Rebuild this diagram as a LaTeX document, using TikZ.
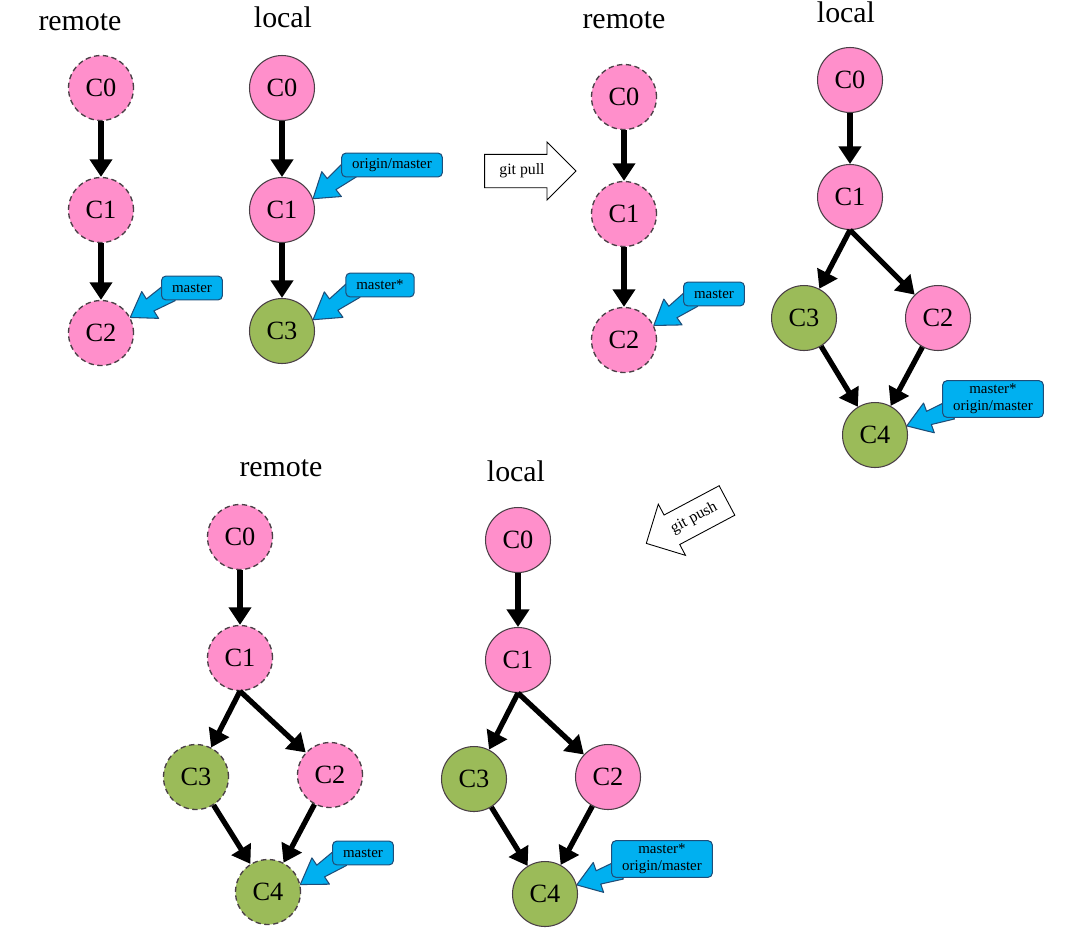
\documentclass[tikz,border=0pt]{standalone}
\usepackage{fontspec}
\setmainfont{Liberation Serif}
\usetikzlibrary{positioning,calc,arrows.meta,shapes.arrows,backgrounds}

\definecolor{commitpink}{HTML}{FF8FCB}
\definecolor{commitgreen}{HTML}{9BBB59}
\definecolor{tagblue}{HTML}{00B0F0}
\definecolor{tagline}{HTML}{1F4E79}
\definecolor{ringgray}{HTML}{4A3F46}

% pointer from a tag box to a commit
\newcommand{\tagptr}[2]{%
  \coordinate (ptr-s) at ($(#1.south west)+(9,-8)$);
  \coordinate (ptr-h) at ($(ptr-s)!0.5!(#2)$);
  \begin{scope}[on background layer]
    \filldraw[ptr] ($(ptr-s)!5.5pt!90:(#2)$) -- ($(ptr-h)!4pt!90:(#2)$)
      -- ($(ptr-h)!9pt!90:(#2)$) -- (#2) -- ($(ptr-h)!9pt!-90:(#2)$)
      -- ($(ptr-h)!4pt!-90:(#2)$) -- ($(ptr-s)!5.5pt!-90:(#2)$) -- cycle;
  \end{scope}}

\begin{document}
\begin{tikzpicture}[
  x=0.02cm, y=-0.02cm,
  commit/.style={circle, minimum size=1.3cm, inner sep=0pt, draw=ringgray, line width=0.6pt, font=\fontsize{15}{16}\selectfont},
  old/.style={commit, fill=commitpink},
  new/.style={commit, fill=commitgreen},
  onremote/.style={line width=0.75pt, dash pattern=on 3pt off 2pt},
  title/.style={anchor=base, font=\fontsize{17}{20}\selectfont},
  tag/.style={draw=tagline, fill=tagblue, rounded corners=2.5pt, line width=0.6pt, align=center, inner xsep=6pt, inner ysep=2pt, minimum height=13.6pt, font=\fontsize{8.5}{9.5}\selectfont},
  ptr/.style={fill=tagblue, draw=tagline, line width=0.6pt, line join=round},
  bigarrow/.style={single arrow, draw, line width=0.5pt, single arrow head extend=7pt, minimum height=52pt, text height=6.5pt, text depth=2pt, inner ysep=5pt, font=\fontsize{9}{10}\selectfont},
  arrow/.style={-{Triangle[length=10pt,width=12.5pt]}, line width=3pt}
]
\useasboundingbox (0,0) rectangle (1075,931);

% before pull
\node[title] at (80,30) {remote};
\node[title] at (283,27) {local};
\node[old, onremote] (r1c0) at (101,88) {C0};
\node[old, onremote] (r1c1) at (101,210) {C1};
\node[old, onremote] (r1c2) at (101,333) {C2};
\node[old] (l1c0) at (282,88) {C0};
\node[old] (l1c1) at (282,210) {C1};
\node[new] (l1c3) at (282,331) {C3};
\node[tag] (r1m) at (192,288) {master};
\node[tag] (l1o) at (392,165) {origin/master};
\node[tag] (l1m) at (380,285) {master*};

\draw[arrow] (r1c0) -- (r1c1);
\draw[arrow] (r1c1) -- (r1c2);
\draw[arrow] (l1c0) -- (l1c1);
\draw[arrow] (l1c1) -- (l1c3);
\tagptr{r1m}{r1c2.28}
\tagptr{l1o}{l1c1.20}
\tagptr{l1m}{l1c3.20}

\node[bigarrow] (pull) at (522,171) {git pull};

% after pull
\node[title] at (624,28) {remote};
\node[title] at (846,22) {local};
\node[old, onremote] (r2c0) at (624,97) {C0};
\node[old, onremote] (r2c1) at (624,214) {C1};
\node[old, onremote] (r2c2) at (624,340) {C2};
\node[old] (l2c0) at (850,80) {C0};
\node[old] (l2c1) at (850,197) {C1};
\node[new] (l2c3) at (804,318) {C3};
\node[old] (l2c2) at (938,318) {C2};
\node[new] (l2c4) at (875,435) {C4};
\node[tag] (r2m) at (714,294) {master};
\node[tag] (l2m) at (993,399) {master*\\origin/master};

\draw[arrow] (r2c0) -- (r2c1);
\draw[arrow] (r2c1) -- (r2c2);
\draw[arrow] (l2c0) -- (l2c1);
\draw[arrow] (l2c1.south) -- (l2c3);
\draw[arrow] (l2c1.south) -- (l2c2);
\draw[arrow] (l2c3) -- (l2c4);
\draw[arrow] (l2c2) -- (l2c4);
\tagptr{r2m}{r2c2.26}
\tagptr{l2m}{l2c4.16}

\node[bigarrow, rotate=28, shape border rotate=180] (push) at (694,518) {git push};

% after push
\node[title] at (281,476) {remote};
\node[title] at (516,481) {local};
\node[old, onremote] (r3c0) at (240,537) {C0};
\node[old, onremote] (r3c1) at (240,658) {C1};
\node[new, onremote] (r3c3) at (196,777) {C3};
\node[old, onremote] (r3c2) at (330,775) {C2};
\node[new, onremote] (r3c4) at (268,892) {C4};
\node[old] (l3c0) at (518,540) {C0};
\node[old] (l3c1) at (518,660) {C1};
\node[new] (l3c3) at (474,779) {C3};
\node[old] (l3c2) at (608,777) {C2};
\node[new] (l3c4) at (545,894) {C4};
\node[tag] (r3m) at (363,853) {master};
\node[tag] (l3m) at (662,859) {master*\\origin/master};

\draw[arrow] (r3c0) -- (r3c1);
\draw[arrow] (r3c1.south) -- (r3c3);
\draw[arrow] (r3c1.south) -- (r3c2);
\draw[arrow] (r3c3) -- (r3c4);
\draw[arrow] (r3c2) -- (r3c4);
\draw[arrow] (l3c0) -- (l3c1);
\draw[arrow] (l3c1.south) -- (l3c3);
\draw[arrow] (l3c1.south) -- (l3c2);
\draw[arrow] (l3c3) -- (l3c4);
\draw[arrow] (l3c2) -- (l3c4);
\tagptr{r3m}{r3c4.13}
\tagptr{l3m}{l3c4.16}
\end{tikzpicture}
\end{document}
